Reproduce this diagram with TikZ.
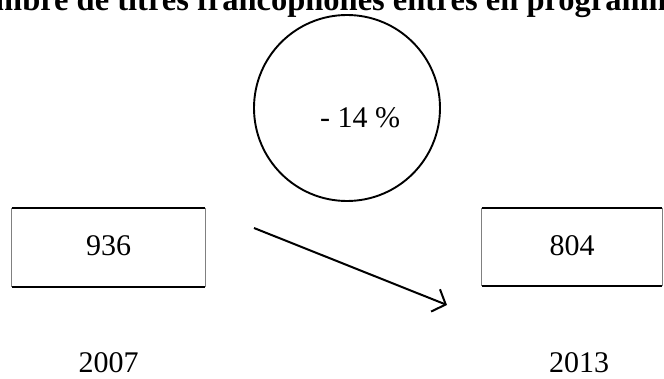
\documentclass[tikz,border=0pt]{standalone}
\usepackage{fontspec}
\setmainfont{Liberation Serif}
\usetikzlibrary{arrows.meta}
\tikzset{
  numtxt/.style={font=\fontsize{30}{34}\selectfont, inner sep=0pt},
  boxnode/.style={rectangle, inner sep=0pt},
  thickedge/.style={line width=1.6pt, black},
  thinedge/.style={line width=0.7pt, gray},
  ring/.style={circle, draw, line width=1.9pt, inner sep=0pt, minimum size=186pt},
  arrowline/.style={line width=2pt, -{Straight Barb[length=11pt,width=24pt]}}
}
\begin{document}
\begin{tikzpicture}[x=1pt,y=-1pt]
\useasboundingbox (0,0) rectangle (664,379);
\clip (0,0) rectangle (664,379);
\fill[white] (0,0) rectangle (664,379);
% title
\node[anchor=base west, inner sep=0pt, font=\bfseries\fontsize{32.5}{38}\selectfont] (title) at (-5,11) {\llap{No}mbre de titres francophones entrés en programmation};
% circle
\node[ring] (c) at (347,108) {};
\node[numtxt, anchor=base] (pct) at (360,128) {- 14 \%};
% boxes
\node[boxnode, minimum width=193pt, minimum height=79pt] (b1) at (108.5,247.5) {};
\node[numtxt, anchor=base] (v1) at (108.5,256) {936};
\node[boxnode, minimum width=180pt, minimum height=78pt] (b2) at (572,247) {};
\node[numtxt, anchor=base] (v2) at (572,256) {804};
\foreach \b in {b1,b2}{
  \draw[thinedge] (\b.north west) -- (\b.south west);
  \draw[thinedge] (\b.north east) -- (\b.south east);
  \draw[thickedge] (\b.north west) -- (\b.north east);
  \draw[thickedge] (\b.south west) -- (\b.south east);
}
% years
\node[numtxt, anchor=base] (y1) at (108.5,372) {2007};
\node[numtxt, anchor=base] (y2) at (579,372) {2013};
% arrow
\coordinate (as) at (254,228);
\coordinate (ae) at (447,305);
\draw[arrowline] (as) -- (ae);
\end{tikzpicture}
\end{document}
